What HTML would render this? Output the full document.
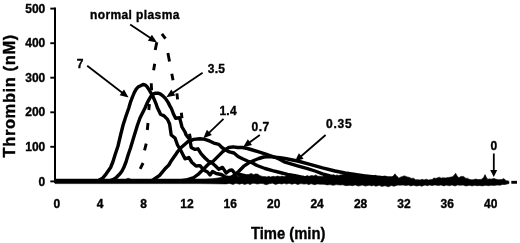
<!DOCTYPE html>
<html><head><meta charset="utf-8"><title>Thrombin generation</title>
<style>html,body{margin:0;padding:0;background:#fff}body{width:520px;height:243px;position:relative;overflow:hidden}</style>
</head><body>
<svg width="520" height="243" viewBox="0 0 520 243" style="position:absolute;left:0;top:0;filter:blur(0.3px)">
<line x1="55" y1="7.6" x2="55" y2="182" stroke="#000" stroke-width="2"/>
<line x1="50.3" y1="181.4" x2="55" y2="181.4" stroke="#000" stroke-width="1.9"/>
<line x1="50.3" y1="146.8" x2="55" y2="146.8" stroke="#000" stroke-width="1.9"/>
<line x1="50.3" y1="112.3" x2="55" y2="112.3" stroke="#000" stroke-width="1.9"/>
<line x1="50.3" y1="77.7" x2="55" y2="77.7" stroke="#000" stroke-width="1.9"/>
<line x1="50.3" y1="43.2" x2="55" y2="43.2" stroke="#000" stroke-width="1.9"/>
<line x1="50.3" y1="8.6" x2="55" y2="8.6" stroke="#000" stroke-width="1.9"/>
<polygon points="55.0,179.1 100.0,179.1 126.0,179.1 128.0,178.2 131.0,179.1 190.0,179.1 205.0,179.0 212.0,178.7 218.0,178.0 222.0,177.3 226.0,176.5 230.0,176.0 235.0,175.5 236.0,175.3 237.7,176.2 240.0,175.9 241.6,176.0 243.2,174.8 245.0,175.4 247.5,174.7 248.6,174.5 251.2,173.4 253.8,174.7 255.0,174.0 257.5,174.0 260.0,175.7 262.5,176.4 266.0,176.7 266.9,177.1 268.8,176.3 270.5,177.0 273.1,176.3 275.0,176.8 277.8,176.1 280.1,176.7 281.7,176.1 284.1,176.7 285.0,176.4 286.1,175.3 289.0,175.4 290.2,174.1 292.5,174.6 294.5,174.7 296.0,176.2 299.4,175.4 301.3,176.9 303.0,175.9 305.0,176.6 307.3,175.5 308.9,176.3 312.0,175.4 313.8,176.0 315.7,174.9 318.0,176.3 320.0,176.2 322.8,176.5 325.0,175.1 326.6,176.2 329.0,174.6 330.0,175.7 331.6,175.8 333.7,174.6 335.3,175.7 337.0,174.9 338.6,175.6 340.0,175.1 342.2,174.7 345.0,173.7 346.5,173.3 348.8,172.2 352.0,173.9 354.1,173.1 356.0,174.7 357.5,174.7 360.8,175.4 362.5,174.7 364.4,175.5 366.5,174.8 368.4,175.9 370.0,175.9 372.5,176.3 375.3,175.2 377.6,176.5 380.0,176.0 382.5,176.4 385.3,175.9 387.9,177.7 388.8,177.6 389.9,177.0 392.0,176.9 393.5,175.7 395.0,173.8 396.5,176.0 397.4,176.5 398.8,178.2 401.0,176.9 402.7,176.5 403.8,175.9 404.8,175.9 407.0,176.9 409.8,177.5 411.0,178.4 413.7,178.3 415.4,179.7 417.5,179.7 420.4,179.9 422.0,179.3 424.0,179.9 426.7,179.2 428.2,180.1 430.0,179.7 432.2,179.5 433.8,178.1 436.0,178.4 439.3,177.2 441.2,178.2 442.5,177.8 445.5,177.9 448.8,177.4 450.0,177.3 452.5,176.7 454.0,175.4 455.6,173.2 457.0,175.7 458.8,177.8 461.0,176.4 463.4,176.4 466.0,178.4 467.4,178.2 469.0,179.2 471.2,179.7 472.8,179.8 476.2,179.0 477.7,179.6 481.2,179.4 483.5,177.7 485.0,174.6 486.5,177.7 488.0,179.4 489.1,178.8 490.9,179.2 493.8,178.4 496.3,179.3 498.8,179.7 501.3,179.5 502.5,179.2 503.7,178.5 506.2,180.7 507.5,180.7 509.0,181.4 509.0,183.5 505.0,184.5 502.6,184.5 500.0,185.2 497.2,185.0 493.8,185.5 491.2,185.2 488.5,185.7 485.5,185.3 482.0,185.9 480.0,185.5 476.9,185.7 474.5,185.3 472.0,186.0 469.7,185.2 465.9,186.0 463.2,185.1 460.0,185.3 457.3,185.0 455.1,186.0 451.8,184.9 449.6,185.8 446.2,185.1 444.0,185.9 440.9,184.9 440.0,185.2 438.5,185.6 434.9,184.9 432.1,185.6 429.5,185.0 427.3,185.7 425.0,185.0 421.5,186.3 420.0,185.4 416.3,186.0 413.6,185.2 410.7,185.9 408.5,185.0 405.9,185.6 403.1,185.0 400.0,185.2 397.9,185.1 394.0,186.2 391.2,185.6 390.0,186.0 388.7,186.8 385.0,185.7 381.7,186.4 379.3,185.3 375.8,186.2 373.6,185.3 371.4,185.9 370.0,185.3 369.0,185.2 365.4,186.1 362.3,185.1 358.5,186.1 355.2,184.9 352.2,185.8 350.0,185.2 345.9,185.7 342.9,184.8 340.0,185.0 336.3,184.6 333.2,185.3 330.0,184.6 327.1,184.9 324.0,184.2 320.0,184.2 317.4,183.9 314.7,184.7 311.3,183.8 310.0,184.0 308.9,184.7 306.8,183.8 303.9,184.1 300.8,183.6 300.0,183.8 297.8,184.6 295.0,183.4 291.8,184.2 289.1,183.3 286.7,184.1 285.0,183.6 284.2,183.3 281.6,184.0 279.1,183.4 275.5,184.4 272.6,183.2 270.0,183.5 266.0,184.8 263.0,183.6 260.3,183.5 257.2,184.0 254.0,183.2 252.0,183.5 250.0,184.6 248.0,183.5 244.5,184.4 242.1,183.4 239.7,184.2 235.9,183.3 233.1,184.4 229.5,183.4 226.0,183.9 200.0,183.6 100.0,183.6 55.0,183.6" fill="#000" stroke="#000" stroke-width="0.6" stroke-linejoin="round"/>
<polyline points="56.0,181.4 93.0,181.2 98.5,180.5 102.5,178.3 106.2,173.8 108.5,170.5 110.6,167.5 113.0,161.5 115.0,155.0 118.0,146.0 120.6,135.0 123.1,125.0 126.0,116.0 128.8,108.0 130.6,101.8 132.5,96.8 134.4,92.4 136.2,89.2 138.1,87.0 140.6,85.8 143.1,84.5 145.0,84.9 146.9,86.5 148.8,89.2 150.6,92.4 152.5,95.5 154.4,99.9 156.2,104.2 157.5,108.0 158.9,110.8 160.5,114.3 164.1,115.9 167.5,119.4 169.6,124.0 171.2,135.0 175.0,138.0 177.5,145.0 181.2,151.2 185.0,158.8 188.8,157.5 192.0,162.5 196.0,166.0 200.0,165.6 203.8,170.0 207.5,172.0 210.0,175.0 212.5,171.5 216.2,173.5 221.2,174.5 225.0,176.8 230.0,178.0 238.0,180.0" fill="none" stroke="#000" stroke-width="3.4" stroke-linejoin="round" stroke-linecap="round"/>
<polyline points="56.0,181.4 109.0,181.2 113.0,179.6 116.5,177.3 120.0,173.8 122.0,171.0 123.8,167.5 126.0,162.0 128.1,155.0 130.5,148.0 133.5,138.0 137.5,125.0 140.0,118.0 142.5,113.0 145.0,108.0 146.9,103.6 148.8,99.9 150.6,96.8 153.1,94.2 155.6,93.2 158.1,93.2 160.6,94.2 163.1,96.1 165.6,98.6 168.1,102.4 170.0,106.1 171.6,109.0 173.6,114.3 175.6,118.3 179.6,117.7 182.0,127.0 185.0,132.0 186.2,135.0 190.0,140.0 191.2,147.5 195.0,149.4 198.0,148.8 201.2,153.8 205.0,158.0 208.8,161.5 211.0,162.0 215.0,165.5 218.8,169.2 222.5,167.4 226.2,173.0 229.4,170.5 231.9,169.9 235.0,173.6 238.8,174.2 243.8,175.5 250.0,177.0 258.0,179.0" fill="none" stroke="#000" stroke-width="3.4" stroke-linejoin="round" stroke-linecap="round"/>
<polyline points="56.0,181.4 150.0,181.0 153.0,180.0 159.6,175.3 165.6,168.2 168.8,165.0 171.7,160.2 175.0,155.6 177.7,151.5 181.2,147.5 187.5,141.9 193.8,139.4 200.0,138.8 205.0,139.4 210.0,141.2 213.8,143.1 218.8,144.4 221.9,147.5 225.6,150.0 229.4,151.9 234.0,153.0 238.0,156.5 242.5,158.8 247.5,161.0 252.5,163.0 257.0,165.5 265.0,168.5 272.5,170.6 280.0,172.5 287.5,174.4 295.0,175.6 305.0,178.0" fill="none" stroke="#000" stroke-width="3.4" stroke-linejoin="round" stroke-linecap="round"/>
<polyline points="56.0,181.4 180.0,181.0 186.0,180.0 193.8,177.5 198.8,173.8 203.8,168.8 208.8,163.8 212.5,161.9 217.5,156.9 222.5,151.9 225.6,149.4 228.8,147.5 233.1,146.9 237.5,147.5 242.5,147.5 247.5,148.5 252.5,150.0 258.8,151.9 265.0,153.8 270.0,155.5 275.0,157.3 280.0,159.5 285.0,162.2 297.5,165.8 307.5,168.6 315.0,171.0 322.5,173.8 330.0,176.0 338.0,178.0" fill="none" stroke="#000" stroke-width="3.4" stroke-linejoin="round" stroke-linecap="round"/>
<polyline points="56.0,181.4 225.0,181.0 230.0,178.5 235.0,174.5 238.8,171.2 243.8,166.2 248.8,162.8 253.8,160.5 258.8,158.5 263.8,157.0 270.0,156.6 280.0,157.8 285.0,158.5 297.5,161.0 310.0,164.3 322.5,167.8 335.0,171.0 345.0,173.0 355.0,174.5 365.0,176.0 380.0,177.5 395.0,178.5" fill="none" stroke="#000" stroke-width="3.4" stroke-linejoin="round" stroke-linecap="round"/>
<line x1="161.9" y1="33.8" x2="165.5" y2="38.7" stroke="#000" stroke-width="2.9"/>
<line x1="156.8" y1="42.3" x2="155.2" y2="50" stroke="#000" stroke-width="2.9"/>
<line x1="154.7" y1="63.7" x2="153.6" y2="70.2" stroke="#000" stroke-width="2.9"/>
<line x1="151.25" y1="83.2" x2="151.6" y2="90.3" stroke="#000" stroke-width="2.9"/>
<line x1="149.4" y1="104" x2="148.8" y2="110" stroke="#000" stroke-width="2.9"/>
<line x1="148" y1="123" x2="147.3" y2="130" stroke="#000" stroke-width="2.9"/>
<line x1="146.25" y1="143.6" x2="144.5" y2="150.3" stroke="#000" stroke-width="2.9"/>
<line x1="143.1" y1="163" x2="140.2" y2="168.9" stroke="#000" stroke-width="2.9"/>
<line x1="167.9" y1="53" x2="169.5" y2="61.5" stroke="#000" stroke-width="2.9"/>
<line x1="171.8" y1="73.8" x2="173" y2="80.3" stroke="#000" stroke-width="2.9"/>
<line x1="176.9" y1="93.3" x2="177.6" y2="99.3" stroke="#000" stroke-width="2.9"/>
<line x1="181.3" y1="112.8" x2="182" y2="118.2" stroke="#000" stroke-width="2.9"/>
<line x1="189.5" y1="133.8" x2="190.5" y2="138.7" stroke="#000" stroke-width="2.9"/>
<line x1="511.3" y1="182.3" x2="517" y2="182.3" stroke="#000" stroke-width="2.9"/>
<line x1="130.2" y1="24.6" x2="150.8" y2="38.3" stroke="#000" stroke-width="1.8"/><polygon points="157.0,42.4 147.9,40.7 151.9,34.7" fill="#000"/>
<line x1="87.2" y1="65.7" x2="122.6" y2="93.0" stroke="#000" stroke-width="1.8"/><polygon points="128.5,97.6 119.6,95.3 124.0,89.6" fill="#000"/>
<line x1="202.6" y1="72.8" x2="172.5" y2="93.1" stroke="#000" stroke-width="1.8"/><polygon points="166.3,97.3 171.3,89.6 175.4,95.5" fill="#000"/>
<line x1="223.5" y1="118.8" x2="208.7" y2="133.1" stroke="#000" stroke-width="1.8"/><polygon points="203.3,138.3 206.9,129.8 211.9,135.0" fill="#000"/>
<line x1="259.8" y1="135.0" x2="249.1" y2="142.8" stroke="#000" stroke-width="1.8"/><polygon points="243.0,147.2 247.8,139.3 252.0,145.1" fill="#000"/>
<line x1="325.6" y1="135.0" x2="300.5" y2="156.7" stroke="#000" stroke-width="1.8"/><polygon points="294.8,161.6 298.9,153.3 303.6,158.8" fill="#000"/>
<line x1="493.8" y1="153.5" x2="493.8" y2="171.0" stroke="#000" stroke-width="1.8"/><polygon points="493.8,177.0 490.2,170.0 497.2,170.0" fill="#000"/>
<g font-family="'Liberation Sans', Arial, sans-serif" font-weight="bold" font-size="12px" fill="#000" stroke="#000" stroke-width="0.35">
<text x="45.3" y="185.5" text-anchor="end" >0</text>
<text x="45.3" y="150.9" text-anchor="end" >100</text>
<text x="45.3" y="116.4" text-anchor="end" >200</text>
<text x="45.3" y="81.8" text-anchor="end" >300</text>
<text x="45.3" y="47.3" text-anchor="end" >400</text>
<text x="45.3" y="12.7" text-anchor="end" >500</text>
<text x="56.8" y="207.8" text-anchor="middle" >0</text>
<text x="100.2" y="207.8" text-anchor="middle" >4</text>
<text x="143.6" y="207.8" text-anchor="middle" >8</text>
<text x="186.9" y="207.8" text-anchor="middle" >12</text>
<text x="230.3" y="207.8" text-anchor="middle" >16</text>
<text x="273.8" y="207.8" text-anchor="middle" >20</text>
<text x="317.1" y="207.8" text-anchor="middle" >24</text>
<text x="360.6" y="207.8" text-anchor="middle" >28</text>
<text x="403.9" y="207.8" text-anchor="middle" >32</text>
<text x="447.3" y="207.8" text-anchor="middle" >36</text>
<text x="490.8" y="207.8" text-anchor="middle" >40</text>
<text x="134.9" y="18.5" text-anchor="middle" letter-spacing="0.4">normal plasma</text>
<text x="80.2" y="67.5" text-anchor="middle" >7</text>
<text x="216.5" y="72.8" text-anchor="middle" letter-spacing="0.3">3.5</text>
<text x="228.2" y="114.8" text-anchor="middle" letter-spacing="0.3">1.4</text>
<text x="260.6" y="131" text-anchor="middle" letter-spacing="0.5">0.7</text>
<text x="339.3" y="127.8" text-anchor="middle" letter-spacing="0.8">0.35</text>
<text x="493.75" y="150.3" text-anchor="middle" >0</text>
</g>
<g font-family="'Liberation Sans', Arial, sans-serif" font-weight="bold" font-size="17px" fill="#000" stroke="#000" stroke-width="0.4">
<text transform="translate(288.2,238.6) scale(0.87,1)" text-anchor="middle">Time (min)</text>
<text transform="translate(15.2,95.8) rotate(-90)" text-anchor="middle" letter-spacing="0.6" font-size="16.5px">Thrombin (nM)</text>
</g>
</svg>
</body></html>
